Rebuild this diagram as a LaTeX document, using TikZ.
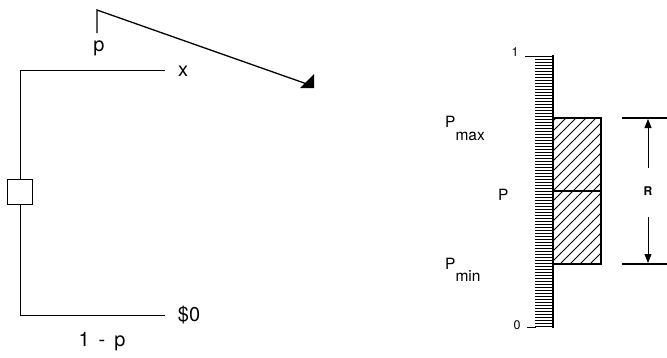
\documentclass[tikz,border=0pt]{standalone}
\usepackage{fontspec}
\setmainfont{TeX Gyre Heros}
\usetikzlibrary{arrows.meta}
\begin{document}
\begin{tikzpicture}[x=1pt,y=-1pt,
  thinline/.style={line width=0.8pt},
  lbl/.style={inner sep=0pt, font=\fontsize{20}{22}\selectfont},
  rlbl/.style={inner sep=0pt, font=\fontsize{15.5}{17}\selectfont},
  slbl/.style={inner sep=0pt, font=\fontsize{12.5}{14}\selectfont},
  tickline/.style={line width=1.3pt},
  heavy/.style={line width=2pt},
  hatchline/.style={line width=0.75pt},
  dimarrow/.style={line width=0.8pt, -{Triangle[length=9pt,width=7pt]}}]
\useasboundingbox (0,0) rectangle (667,357);
% ---------- left: the lottery ----------
\node[draw, thinline, minimum width=25pt, minimum height=25pt, inner sep=0pt] (box) at (20,191.5) {};
\coordinate (top) at (20,70);
\coordinate (topend) at (165,70);
\coordinate (bot) at (20,315);
\coordinate (botend) at (165,315);
\draw[thinline] (box.north) -- (top) -- (topend);
\draw[thinline] (box.south) -- (bot) -- (botend);
\node[lbl] (xlab) at (183,71) {x};
\node[lbl] (zero) at (189,315) {\$0};
\node[lbl] (plab) at (99,48) {p};
\node[lbl] (omp) at (102,342) {1\hspace{0.45em}-\hspace{0.45em}p};
\coordinate (pstart) at (97,33);
\coordinate (pcorner) at (97,10);
\coordinate (pend) at (307,84);
\draw[line width=1.3pt] (pstart) -- (pcorner) -- (pend);
\fill (300,88) -- (314,88) -- (314,74) -- cycle;
% ---------- right: the probability scale ----------
\foreach \i in {0,...,90}{
  \pgfmathsetmacro{\ty}{56.5+\i*3}
  \draw[tickline] (535,\ty) -- (553,\ty);
}
\draw[heavy] (553,55) -- (553,328);
\node[slbl] (one) at (515,52) {1};
\node[slbl] (zeroscale) at (517,325) {0};
\coordinate (onetick) at (525,56);
\coordinate (zerotick) at (527,327);
\draw[thinline] (onetick) -- (536,56);
\draw[thinline] (zerotick) -- (536,327);
% hatched range
\begin{scope}
  \clip (553,118) rectangle (601,264);
  \foreach \k in {0,...,21}
    \draw[hatchline] (400+\k*10,264) -- ++(160,-160);
\end{scope}
\draw[heavy] (553,118) rectangle (601,264);
\draw[line width=1.2pt] (553,191) -- (601,191);
% labels
\node[rlbl, anchor=base west] (pmax) at (445,127) {P\raisebox{-13pt}{max}};
\node[rlbl, anchor=base west] (pmid) at (498,200) {P};
\node[rlbl, anchor=base west] (pmin) at (445,269) {P\raisebox{-12.5pt}{min}};
% range R
\coordinate (rtopl) at (622,118);
\coordinate (rtopr) at (667,118);
\coordinate (rbotl) at (622,264);
\coordinate (rbotr) at (667,264);
\draw[heavy] (rtopl) -- (rtopr);
\draw[heavy] (rbotl) -- (rbotr);
\node[slbl, font=\fontsize{12}{14}\selectfont\bfseries] (R) at (648,191) {R};
\coordinate (upstart) at (648,168);
\coordinate (uptip) at (648,119);
\coordinate (downstart) at (648,217);
\coordinate (downtip) at (648,263);
\draw[dimarrow] (upstart) -- (uptip);
\draw[dimarrow] (downstart) -- (downtip);
\end{tikzpicture}
\end{document}
